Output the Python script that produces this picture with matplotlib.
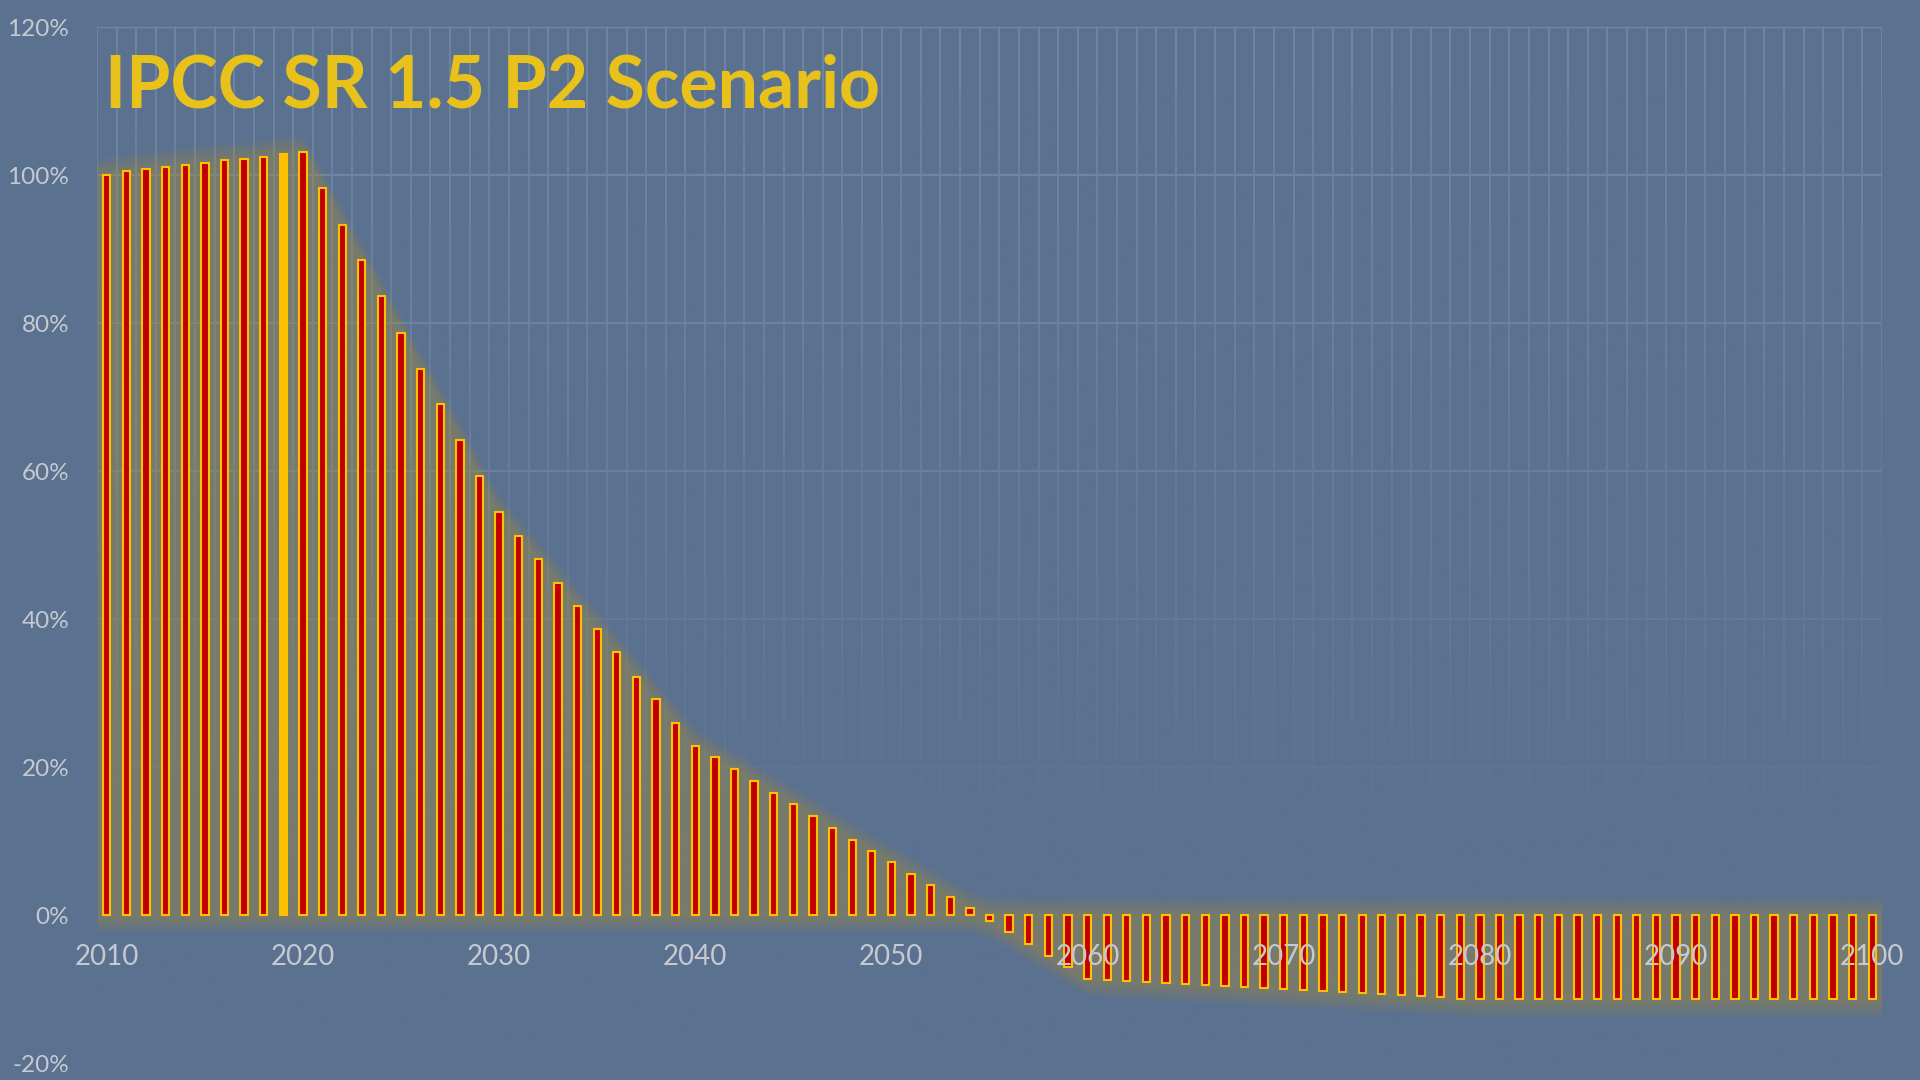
import numpy as np
import matplotlib
matplotlib.use("Agg")
import matplotlib.pyplot as plt
from matplotlib.ticker import PercentFormatter, FixedLocator

# ---------------- data ----------------
years = list(range(2010, 2101))
emissions_pct = [
    100.0, 100.5, 100.8, 101.1, 101.4, 101.6, 102.0, 102.2, 102.5, 102.9,   # 2010-2019
    103.1, 98.2, 93.3, 88.5, 83.6, 78.7, 73.8, 69.0, 64.2, 59.3,            # 2020-2029
    54.4, 51.2, 48.1, 44.9, 41.8, 38.7, 35.5, 32.2, 29.2, 26.0,             # 2030-2039
    22.8, 21.3, 19.7, 18.1, 16.5, 15.0, 13.4, 11.8, 10.2, 8.7,              # 2040-2049
    7.1, 5.6, 4.0, 2.4, 0.9, -0.8, -2.3, -3.9, -5.5, -7.0,                  # 2050-2059
    -8.6, -8.8, -8.9, -9.1, -9.2, -9.3, -9.5, -9.6, -9.7, -9.9,             # 2060-2069
    -10.0, -10.2, -10.3, -10.4, -10.6, -10.7, -10.8, -11.0, -11.1, -11.3,   # 2070-2079
    -11.4, -11.4, -11.4, -11.4, -11.4, -11.4, -11.4, -11.4, -11.4, -11.4,   # 2080-2089
    -11.4, -11.4, -11.4, -11.4, -11.4, -11.4, -11.4, -11.4, -11.4, -11.4,   # 2090-2099
    -11.4,                                                                  # 2100
]
highlight_year = 2019
y_ticks = [-20, 0, 20, 40, 60, 80, 100, 120]
x_tick_years = [2010, 2020, 2030, 2040, 2050, 2060, 2070, 2080, 2090, 2100]
title = "IPCC SR 1.5 P2 Scenario"

# ---------------- style ----------------
BG = "#5B7190"
GRID = "#7087A6"
LABEL = "#C6CAD0"
BAR_FACE = "#C00000"
BAR_EDGE = "#FFC000"
HIGHLIGHT = "#FFC000"
GLOW = "#B49A33"
TITLE_COLOR = "#E8C21A"

plt.rcParams["font.family"] = ["Lato", "DejaVu Sans"]
plt.rcParams["axes.unicode_minus"] = False

W, H = 1920, 1080
fig = plt.figure(figsize=(W / 100, H / 100), dpi=100, facecolor=BG)
ax = fig.add_axes([97 / W, 17 / H, 1785 / W, 1036 / H])
ax.set_facecolor(BG)
for s in ax.spines.values():
    s.set_visible(False)

yrs = np.array(years)
vals = np.array(emissions_pct)

# gridlines (manual so tick labels can sit above the bars)
boundaries = np.append(yrs - 0.5, yrs[-1] + 0.5)
ax.vlines(boundaries, -20, 120, colors=GRID, linewidth=1.2, zorder=0.3)
ax.hlines(y_ticks, yrs[0] - 0.5, yrs[-1] + 0.5, colors=GRID, linewidth=1.6, zorder=0.3)

# fading overlay so gridlines fade out towards the bottom
f = np.linspace(0, 1, 512)  # axes fraction, bottom->top
alpha = np.clip((0.95 - f) / 0.75, 0, 1) ** 1.3
rgba = np.zeros((512, 1, 4))
rgba[..., :3] = matplotlib.colors.to_rgb(BG)
rgba[:, 0, 3] = alpha
ax.imshow(rgba, extent=(0, 1, 0, 1), origin="lower", transform=ax.transAxes,
          aspect="auto", zorder=0.6, interpolation="bilinear")

# soft glow around the bars
xg = np.concatenate([[yrs[0] - 0.5], yrs, [yrs[-1] + 0.5]])
hi = np.maximum(vals, 0)
lo = np.minimum(vals, 0)
hi = np.concatenate([[hi[0]], hi, [hi[-1]]])
lo = np.concatenate([[lo[0]], lo, [lo[-1]]])
px_per_pct = 1036 / 140
for m in [2, 4, 6, 8, 10, 12, 14, 16, 18]:
    my = m / px_per_pct
    ax.fill_between(xg, lo - my, hi + my, color=GLOW, alpha=0.047, lw=0, zorder=1)

# bars
faces = [HIGHLIGHT if y == highlight_year else BAR_FACE for y in years]
ax.bar(yrs, vals, width=0.37, color=faces, edgecolor=BAR_EDGE, linewidth=1.5, zorder=3)

ax.set_xlim(yrs[0] - 0.5, yrs[-1] + 0.5)
ax.set_ylim(-20, 120)

# axes ticks / labels
ax.yaxis.set_major_locator(FixedLocator(y_ticks))
ax.yaxis.set_major_formatter(PercentFormatter(100, decimals=0))
ax.xaxis.set_major_locator(FixedLocator(x_tick_years))
ax.spines["bottom"].set_position(("data", 0))
ax.tick_params(axis="y", length=0, pad=20, labelsize=17.5, labelcolor=LABEL)
ax.tick_params(axis="x", length=0, pad=21, labelsize=20, labelcolor=LABEL)
ax.set_axisbelow(False)
ax.xaxis.set_zorder(5)
ax.yaxis.set_zorder(5)

# title
fig.text(105 / W, 1 - 107 / H, title, color=TITLE_COLOR, fontsize=51.5,
         fontweight="bold", ha="left", va="baseline")

fig.savefig("out.png", dpi=100, facecolor=BG)
